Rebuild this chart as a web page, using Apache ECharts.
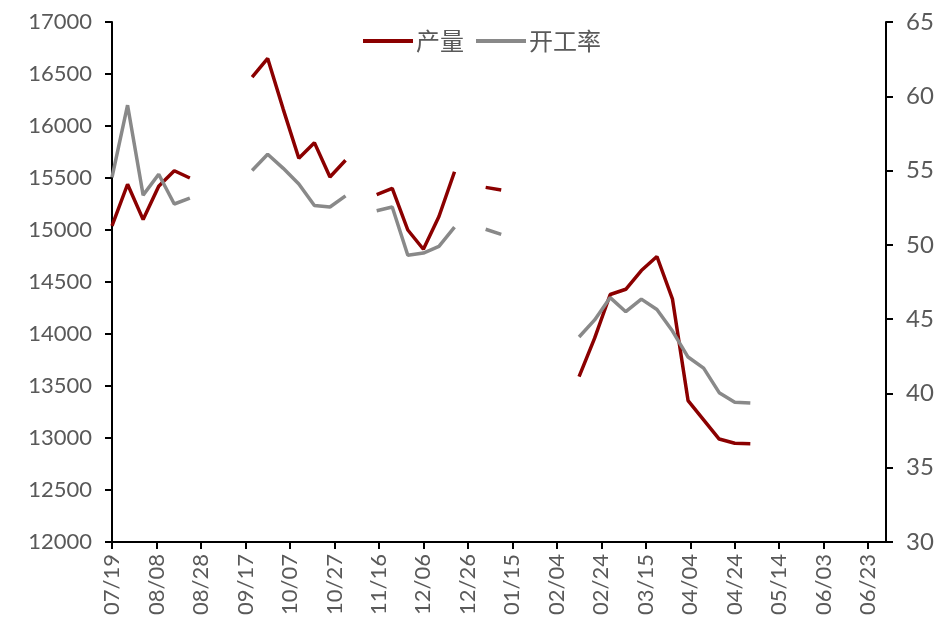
<!DOCTYPE html>
<html>
<head>
<meta charset="utf-8">
<script src="https://cdn.jsdelivr.net/npm/echarts@6/dist/echarts.min.js"></script>
<style>
  html, body { margin: 0; padding: 0; background: #fff; }
  #chart { width: 945px; height: 624px; }
</style>
</head>
<body>
<div id="chart"></div>
<script>
// 每周日期
const weekDates = [
  '2019-07-19', '2019-07-26', '2019-08-02', '2019-08-09', '2019-08-16', '2019-08-23',
  '2019-08-30', '2019-09-06', '2019-09-13', '2019-09-20', '2019-09-27', '2019-10-04',
  '2019-10-11', '2019-10-18', '2019-10-25', '2019-11-01', '2019-11-08', '2019-11-15',
  '2019-11-22', '2019-11-29', '2019-12-06', '2019-12-13', '2019-12-20', '2019-12-27',
  '2020-01-03', '2020-01-10', '2020-01-17', '2020-01-24', '2020-01-31', '2020-02-07',
  '2020-02-14', '2020-02-21', '2020-02-28', '2020-03-06', '2020-03-13', '2020-03-20',
  '2020-03-27', '2020-04-03', '2020-04-10', '2020-04-17', '2020-04-24', '2020-05-01'
]
// 产量
const output = [
  15040, 15440, 15100, 15420, 15570, 15500,
  null, null, null, 16470, 16650, 16160,
  15690, 15840, 15510, 15670, null, 15340,
  15400, 15000, 14815, 15130, 15560, null,
  15410, 15385, null, null, null, null,
  13590, 13960, 14380, 14430, 14610, 14745,
  14335, 13360, 13175, 12990, 12950, 12945
]
// 开工率
const rate = [
  54.55, 59.4, 53.35, 54.75, 52.75, 53.15,
  null, null, null, 55.0, 56.1, 55.15,
  54.1, 52.65, 52.55, 53.3, null, 52.3,
  52.55, 49.3, 49.45, 49.9, 51.2, null,
  51.05, 50.7, null, null, null, null,
  43.8, 44.95, 46.45, 45.5, 46.35, 45.65,
  44.2, 42.45, 41.7, 40.05, 39.4, 39.35
]
// 横轴刻度
const tickDates = [
  '2019-07-19', '2019-08-08', '2019-08-28', '2019-09-17', '2019-10-07', '2019-10-27',
  '2019-11-16', '2019-12-06', '2019-12-26', '2020-01-15', '2020-02-04', '2020-02-24',
  '2020-03-15', '2020-04-04', '2020-04-24', '2020-05-14', '2020-06-03', '2020-06-23'
]
const axisEnd = '2020-07-01'

const start = Date.parse(weekDates[0])
const dayOf = s => Math.round((Date.parse(s) - start) / 86400000)
const tickDays = tickDates.map(dayOf)
const labelOf = {}
tickDates.forEach(s => { labelOf[dayOf(s)] = s.slice(5, 7) + '/' + s.slice(8, 10) })

const font = 'Lato, "Noto Sans CJK SC", sans-serif'
const labelColor = '#595959'

const chart = echarts.init(document.getElementById('chart'))
chart.setOption({
  animation: false,
  grid: { left: 112, right: 59, top: 22, bottom: 82 },
  legend: {
    top: 24,
    left: 358,
    icon: 'rect',
    itemWidth: 50,
    itemHeight: 4,
    itemGap: 12,
    textStyle: { fontSize: 24, color: labelColor, fontFamily: '"Noto Sans CJK SC", sans-serif', padding: [0, 0, 0, -2] },
    data: ['产量', '开工率']
  },
  xAxis: {
    type: 'value',
    min: 0,
    max: dayOf(axisEnd),
    splitLine: { show: false },
    axisLine: { lineStyle: { color: '#000', width: 2 } },
    axisTick: { customValues: tickDays, length: 7, lineStyle: { color: '#000', width: 2 } },
    axisLabel: {
      customValues: tickDays,
      rotate: 90,
      margin: 12,
      fontSize: 22,
      color: labelColor,
      fontFamily: font,
      formatter: v => labelOf[v] || ''
    }
  },
  yAxis: [
    {
      type: 'value',
      min: 12000,
      max: 17000,
      interval: 500,
      splitLine: { show: false },
      axisLine: { show: true, lineStyle: { color: '#000', width: 2 } },
      axisTick: { show: true, length: 7, lineStyle: { color: '#000', width: 2 } },
      axisLabel: { fontSize: 22, color: labelColor, fontFamily: font, margin: 20, formatter: v => String(v) }
    },
    {
      type: 'value',
      min: 30,
      max: 65,
      interval: 5,
      splitLine: { show: false },
      axisLine: { show: true, lineStyle: { color: '#000', width: 2 } },
      axisTick: { show: true, length: 7, lineStyle: { color: '#000', width: 2 } },
      axisLabel: { fontSize: 24, color: labelColor, fontFamily: font, margin: 20 }
    }
  ],
  series: [
    {
      name: '产量',
      type: 'line',
      yAxisIndex: 0,
      symbol: 'none',
      connectNulls: false,
      color: '#8B0000',
      lineStyle: { width: 3.5, color: '#8B0000' },
      data: weekDates.map((d, i) => [dayOf(d), output[i] === null ? '-' : output[i]])
    },
    {
      name: '开工率',
      type: 'line',
      yAxisIndex: 1,
      symbol: 'none',
      connectNulls: false,
      color: '#898989',
      lineStyle: { width: 3.5, color: '#898989' },
      data: weekDates.map((d, i) => [dayOf(d), rate[i] === null ? '-' : rate[i]])
    }
  ]
})
</script>
</body>
</html>
